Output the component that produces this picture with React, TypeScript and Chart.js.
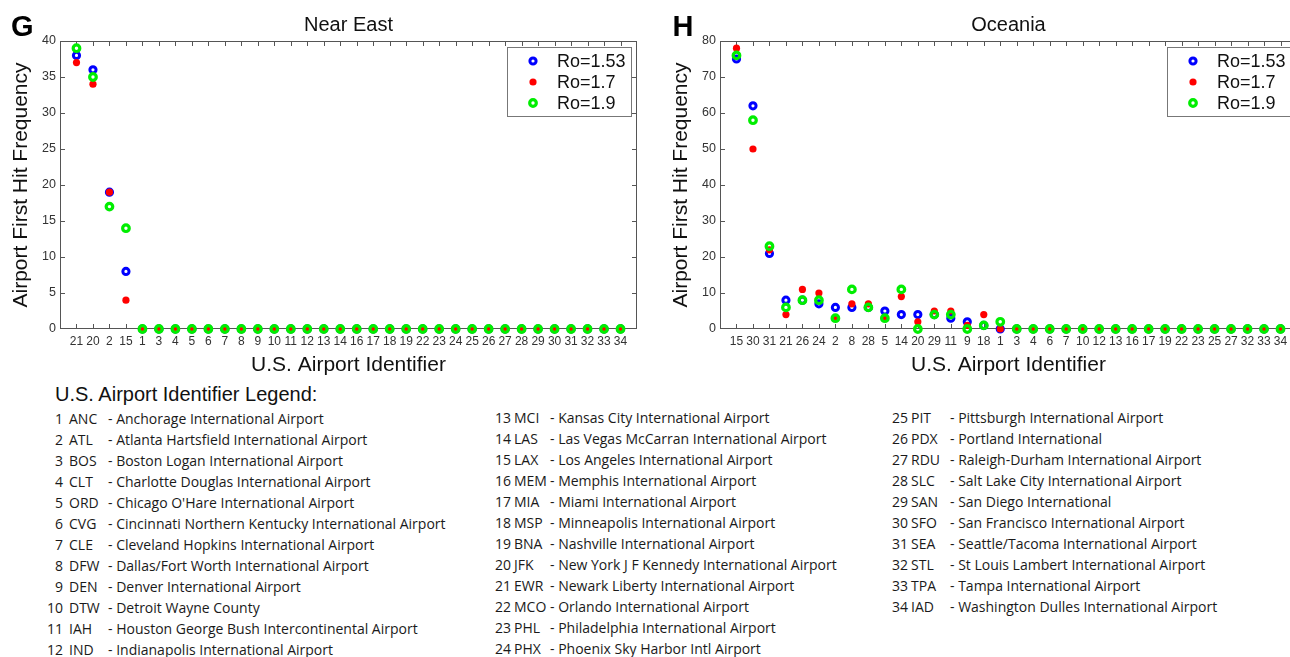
import React, { useEffect, useRef } from 'react';
import { Chart, registerables } from 'chart.js';

Chart.register(...registerables);

// ---------- data ----------
const seriesNames = ['Ro=1.53', 'Ro=1.7', 'Ro=1.9'];

const nearEastAirports = ['21', '20', '2', '15', '1', '3', '4', '5', '6', '7', '8', '9', '10', '11', '12', '13', '14', '16', '17', '18', '19', '22', '23', '24', '25', '26', '27', '28', '29', '30', '31', '32', '33', '34'];
const nearEastRo153 = [38, 36, 19, 8, 0, 0, 0, 0, 0, 0, 0, 0, 0, 0, 0, 0, 0, 0, 0, 0, 0, 0, 0, 0, 0, 0, 0, 0, 0, 0, 0, 0, 0, 0];
const nearEastRo17 = [37, 34, 19, 4, 0, 0, 0, 0, 0, 0, 0, 0, 0, 0, 0, 0, 0, 0, 0, 0, 0, 0, 0, 0, 0, 0, 0, 0, 0, 0, 0, 0, 0, 0];
const nearEastRo19 = [39, 35, 17, 14, 0, 0, 0, 0, 0, 0, 0, 0, 0, 0, 0, 0, 0, 0, 0, 0, 0, 0, 0, 0, 0, 0, 0, 0, 0, 0, 0, 0, 0, 0];

const oceaniaAirports = ['15', '30', '31', '21', '26', '24', '2', '8', '28', '5', '14', '20', '29', '11', '9', '18', '1', '3', '4', '6', '7', '10', '12', '13', '16', '17', '19', '22', '23', '25', '27', '32', '33', '34'];
const oceaniaRo153 = [75, 62, 21, 8, 8, 7, 6, 6, 6, 5, 4, 4, 4, 3, 2, 1, 0, 0, 0, 0, 0, 0, 0, 0, 0, 0, 0, 0, 0, 0, 0, 0, 0, 0];
const oceaniaRo17 = [78, 50, 22, 4, 11, 10, 3, 7, 7, 3, 9, 2, 5, 5, 1, 4, 0, 0, 0, 0, 0, 0, 0, 0, 0, 0, 0, 0, 0, 0, 0, 0, 0, 0];
const oceaniaRo19 = [76, 58, 23, 6, 8, 8, 3, 11, 6, 3, 11, 0, 4, 4, 0, 1, 2, 0, 0, 0, 0, 0, 0, 0, 0, 0, 0, 0, 0, 0, 0, 0, 0, 0];

const legendNumbers = ['1', '2', '3', '4', '5', '6', '7', '8', '9', '10', '11', '12', '13', '14', '15', '16', '17', '18', '19', '20', '21', '22', '23', '24', '25', '26', '27', '28', '29', '30', '31', '32', '33', '34'];
const legendCodes = ['ANC', 'ATL', 'BOS', 'CLT', 'ORD', 'CVG', 'CLE', 'DFW', 'DEN', 'DTW', 'IAH', 'IND', 'MCI', 'LAS', 'LAX', 'MEM', 'MIA', 'MSP', 'BNA', 'JFK', 'EWR', 'MCO', 'PHL', 'PHX', 'PIT', 'PDX', 'RDU', 'SLC', 'SAN', 'SFO', 'SEA', 'STL', 'TPA', 'IAD'];
const legendNames = [
  'Anchorage International Airport',
  'Atlanta Hartsfield International Airport',
  'Boston Logan International Airport',
  'Charlotte Douglas International Airport',
  "Chicago O'Hare International Airport",
  'Cincinnati Northern Kentucky International Airport',
  'Cleveland Hopkins International Airport',
  'Dallas/Fort Worth International Airport',
  'Denver International Airport',
  'Detroit Wayne County',
  'Houston George Bush Intercontinental Airport',
  'Indianapolis International Airport',
  'Kansas City International Airport',
  'Las Vegas McCarran International Airport',
  'Los Angeles International Airport',
  'Memphis International Airport',
  'Miami International Airport',
  'Minneapolis International Airport',
  'Nashville International Airport',
  'New York J F Kennedy International Airport',
  'Newark Liberty International Airport',
  'Orlando International Airport',
  'Philadelphia International Airport',
  'Phoenix Sky Harbor Intl Airport',
  'Pittsburgh International Airport',
  'Portland International',
  'Raleigh-Durham International Airport',
  'Salt Lake City International Airport',
  'San Diego International',
  'San Francisco International Airport',
  'Seattle/Tacoma International Airport',
  'St Louis Lambert International Airport',
  'Tampa International Airport',
  'Washington Dulles International Airport',
];

// ---------- styles ----------
const FONT = "'Liberation Sans', Arial, Helvetica, sans-serif";
const seriesStyles = [
  { color: '#0000ff', radius: 3.1, border: 3, fill: 'rgba(0,0,0,0)', order: 2 },
  { color: '#ff0000', radius: 3.6, border: 0, fill: '#ff0000', order: 1 },
  { color: '#00ee00', radius: 3.3, border: 3.2, fill: 'rgba(0,0,0,0)', order: 0 },
];

function drawMarker(ctx: CanvasRenderingContext2D, x: number, y: number, st: any) {
  ctx.beginPath();
  ctx.arc(x, y, st.radius, 0, Math.PI * 2);
  if (st.border > 0) {
    ctx.lineWidth = st.border;
    ctx.strokeStyle = st.color;
    ctx.stroke();
  } else {
    ctx.fillStyle = st.fill;
    ctx.fill();
  }
}

const decor = {
  id: 'panelDecor',
  beforeDatasetsDraw(chart: any) {
    const { ctx, chartArea: a, scales } = chart;
    const x = scales.x;
    const y = scales.y;
    ctx.save();
    ctx.strokeStyle = '#555';
    ctx.lineWidth = 1;
    ctx.strokeRect(Math.round(a.left) + 0.5, Math.round(a.top) + 0.5, Math.round(a.width) - 1, Math.round(a.height) - 1);
    ctx.beginPath();
    x.ticks.forEach((t: any) => {
      if (t.value <= x.min || t.value >= x.max) return;
      const px = Math.round(x.getPixelForValue(t.value)) + 0.5;
      ctx.moveTo(px, a.bottom);
      ctx.lineTo(px, a.bottom - 5);
      ctx.moveTo(px, a.top);
      ctx.lineTo(px, a.top + 5);
    });
    y.ticks.forEach((t: any) => {
      if (t.value <= y.min || t.value >= y.max) return;
      const py = Math.round(y.getPixelForValue(t.value)) + 0.5;
      ctx.moveTo(a.left, py);
      ctx.lineTo(a.left + 5, py);
      ctx.moveTo(a.right, py);
      ctx.lineTo(a.right - 5, py);
    });
    ctx.stroke();
    ctx.restore();
  },
  afterDraw(chart: any, _args: any, opts: any) {
    const { ctx, chartArea: a } = chart;
    ctx.save();
    // panel title
    ctx.fillStyle = '#111';
    ctx.font = `20px ${FONT}`;
    ctx.textAlign = 'center';
    ctx.textBaseline = 'alphabetic';
    ctx.fillText(opts.title, (a.left + a.right) / 2, 30.5);
    // panel letter
    ctx.font = `bold 29px ${FONT}`;
    ctx.textAlign = 'left';
    ctx.fillStyle = '#000';
    ctx.fillText(opts.letter, opts.letterX, 36);
    // legend
    const bx = a.right - 130;
    const by = a.top + 6;
    ctx.fillStyle = '#fff';
    ctx.fillRect(bx, by, 124, 69);
    ctx.strokeStyle = '#777';
    ctx.lineWidth = 1;
    ctx.strokeRect(bx + 0.5, by + 0.5, 124, 69);
    ctx.font = `18px ${FONT}`;
    ctx.textBaseline = 'middle';
    seriesNames.forEach((name, i) => {
      const cy = by + 14 + i * 21;
      drawMarker(ctx, bx + 26, cy, seriesStyles[i]);
      ctx.fillStyle = '#111';
      ctx.fillText(name, bx + 50, cy + 1);
    });
    ctx.restore();
  },
};

type PanelProps = {
  left: number;
  letter: string;
  letterX: number;
  title: string;
  labels: string[];
  series: number[][];
  yMax: number;
  yStep: number;
};

function Panel({ left, letter, letterX, title, labels, series, yMax, yStep }: PanelProps) {
  const ref = useRef<HTMLCanvasElement>(null);
  useEffect(() => {
    if (!ref.current) return;
    const n = labels.length;
    const chart = new Chart(ref.current, {
      type: 'scatter',
      data: {
        datasets: series.map((vals, si) => ({
          label: seriesNames[si],
          data: vals.map((v, i) => ({ x: i + 1, y: v })),
          order: seriesStyles[si].order,
          pointRadius: seriesStyles[si].radius,
          pointHoverRadius: seriesStyles[si].radius,
          pointBorderWidth: seriesStyles[si].border,
          pointBackgroundColor: seriesStyles[si].fill,
          pointBorderColor: seriesStyles[si].color,
          backgroundColor: seriesStyles[si].fill,
          borderColor: seriesStyles[si].color,
          clip: false as any,
        })),
      },
      options: {
        animation: false,
        responsive: false,
        devicePixelRatio: 1,
        events: [],
        layout: { padding: { top: 41, left: 0, right: 13, bottom: 0 } },
        plugins: {
          legend: { display: false },
          tooltip: { enabled: false },
          panelDecor: { letter, letterX, title },
        } as any,
        scales: {
          x: {
            type: 'linear',
            min: 0,
            max: n + 1,
            afterFit: (s: any) => { s.height = 51; },
            grid: { display: false, drawTicks: false },
            border: { display: false },
            ticks: {
              stepSize: 1,
              autoSkip: false,
              maxRotation: 0,
              minRotation: 0,
              padding: 5,
              color: '#333',
              font: { family: FONT, size: 12 },
              callback: (v: any) => (v >= 1 && v <= n ? labels[v - 1] : ''),
            },
            title: {
              display: true,
              text: 'U.S. Airport Identifier',
              color: '#111',
              font: { family: FONT, size: 21 },
              padding: { top: 0, bottom: 2.6 },
            },
          },
          y: {
            min: 0,
            max: yMax,
            afterFit: (s: any) => { s.width = 60; },
            grid: { display: false, drawTicks: false },
            border: { display: false },
            ticks: {
              stepSize: yStep,
              padding: 4,
              color: '#333',
              font: { family: FONT, size: 12.5 },
            },
            title: {
              display: true,
              text: 'Airport First Hit Frequency',
              color: '#111',
              font: { family: FONT, size: 21 },
              padding: { top: 9, bottom: 0 },
            },
          },
        },
      },
      plugins: [decor as any],
    });
    return () => chart.destroy();
  }, []);
  return (
    <canvas
      ref={ref}
      width={650}
      height={380}
      style={{ position: 'absolute', left, top: 0, width: 650, height: 380 }}
    />
  );
}

const columns = [
  { from: 0, to: 12, numRight: 63, codeX: 69, dashX: 108, top: 419 },
  { from: 12, to: 24, numRight: 511, codeX: 514, dashX: 550, top: 418 },
  { from: 24, to: 34, numRight: 908, codeX: 911, dashX: 950, top: 418 },
];

const LEG_FONT = "'Open Sans', 'Noto Sans', sans-serif";

function AirportLegend() {
  return (
    <div>
      <div
        style={{
          position: 'absolute', left: 55, top: 382, fontFamily: FONT, fontSize: 20,
          lineHeight: '24px', color: '#111', whiteSpace: 'nowrap',
        }}
      >
        U.S. Airport Identifier Legend:
      </div>
      {columns.map((c, ci) =>
        legendNumbers.slice(c.from, c.to).map((num, k) => {
          const idx = c.from + k;
          const cy = c.top + k * 21;
          const base: React.CSSProperties = {
            position: 'absolute', top: cy - 10, lineHeight: '20px', fontFamily: LEG_FONT,
            fontSize: 14, color: '#1a1a1a', whiteSpace: 'nowrap',
          };
          return (
            <React.Fragment key={`${ci}-${k}`}>
              <span style={{ ...base, right: 1290 - c.numRight, textAlign: 'right' }}>{num}</span>
              <span style={{ ...base, left: c.codeX }}>{legendCodes[idx]}</span>
              <span style={{ ...base, left: c.dashX }}>{'- ' + legendNames[idx]}</span>
            </React.Fragment>
          );
        })
      )}
    </div>
  );
}

export default function App() {
  return (
    <div
      style={{
        position: 'fixed', left: 0, top: 0, width: 1290, height: 657, overflow: 'hidden',
        background: '#fff',
      }}
    >
      <Panel
        left={0}
        letter="G"
        letterX={11}
        title="Near East"
        labels={nearEastAirports}
        series={[nearEastRo153, nearEastRo17, nearEastRo19]}
        yMax={40}
        yStep={5}
      />
      <Panel
        left={660}
        letter="H"
        letterX={12.5}
        title="Oceania"
        labels={oceaniaAirports}
        series={[oceaniaRo153, oceaniaRo17, oceaniaRo19]}
        yMax={80}
        yStep={10}
      />
      <AirportLegend />
    </div>
  );
}
